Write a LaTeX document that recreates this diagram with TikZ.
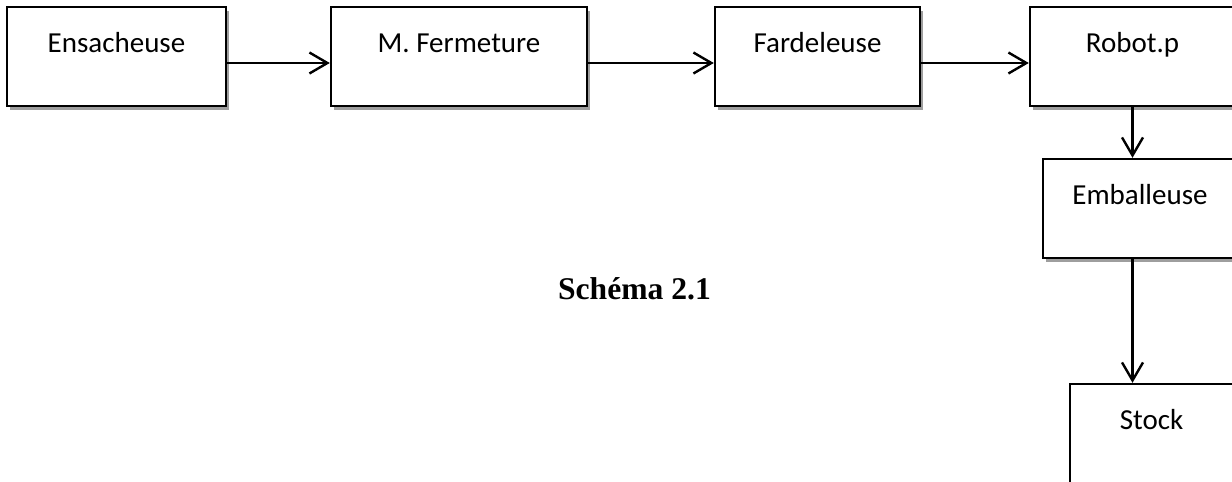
\documentclass[tikz,border=0pt]{standalone}
\usepackage{fontspec}
\setmainfont{Carlito}
\newfontfamily\capfont{Liberation Serif}
\usetikzlibrary{arrows.meta,shadows}
\begin{document}
\begin{tikzpicture}[x=1pt,y=-1pt,
  stepbox/.style={draw=black, line width=2.4pt, fill=white, rectangle,
    minimum height=99pt, inner sep=0pt, text height=20pt, text depth=29pt,
    font=\fontsize{29}{35}\selectfont,
    drop shadow={shadow xshift=3pt, shadow yshift=-3.5pt, fill=black!38, opacity=1}},
  flow/.style={line width=2.4pt, -{Straight Barb[length=18pt,width=21pt,line width=2.4pt]}}]
\useasboundingbox (0,0) rectangle (1232,482);
\clip (0,0) rectangle (1232,482);
\node[stepbox, minimum width=219pt] (ens) at (116.5,56.5) {Ensacheuse};
\node[stepbox, minimum width=256pt] (fer) at (459,56.5) {M. Fermeture};
\node[stepbox, minimum width=205pt] (far) at (817.5,56.5) {Fardeleuse};
\node[stepbox, minimum width=205pt] (rob) at (1132.5,56.5) {Robot.p};
\node[stepbox, minimum width=194pt] (emb) at (1140,208.5) {Emballeuse};
\node[stepbox, minimum width=163pt] (sto) at (1151.5,433.5) {Stock};
\draw[flow] ([yshift=-6.5pt]ens.east) -- ([yshift=-6.5pt]ens.east -| fer.west);
\draw[flow] ([yshift=-6.5pt]fer.east) -- ([yshift=-6.5pt]fer.east -| far.west);
\draw[flow] ([yshift=-6.5pt]far.east) -- ([yshift=-6.5pt]far.east -| rob.west);
\draw[flow] (rob.south) -- (rob.south |- emb.north);
\draw[flow] (rob.south |- emb.south) -- (rob.south |- sto.north);
\node[anchor=base, font=\capfont\bfseries\fontsize{31.6}{38}\selectfont] (cap) at (634.5,299) {Schéma 2.1};
\end{tikzpicture}
\end{document}
